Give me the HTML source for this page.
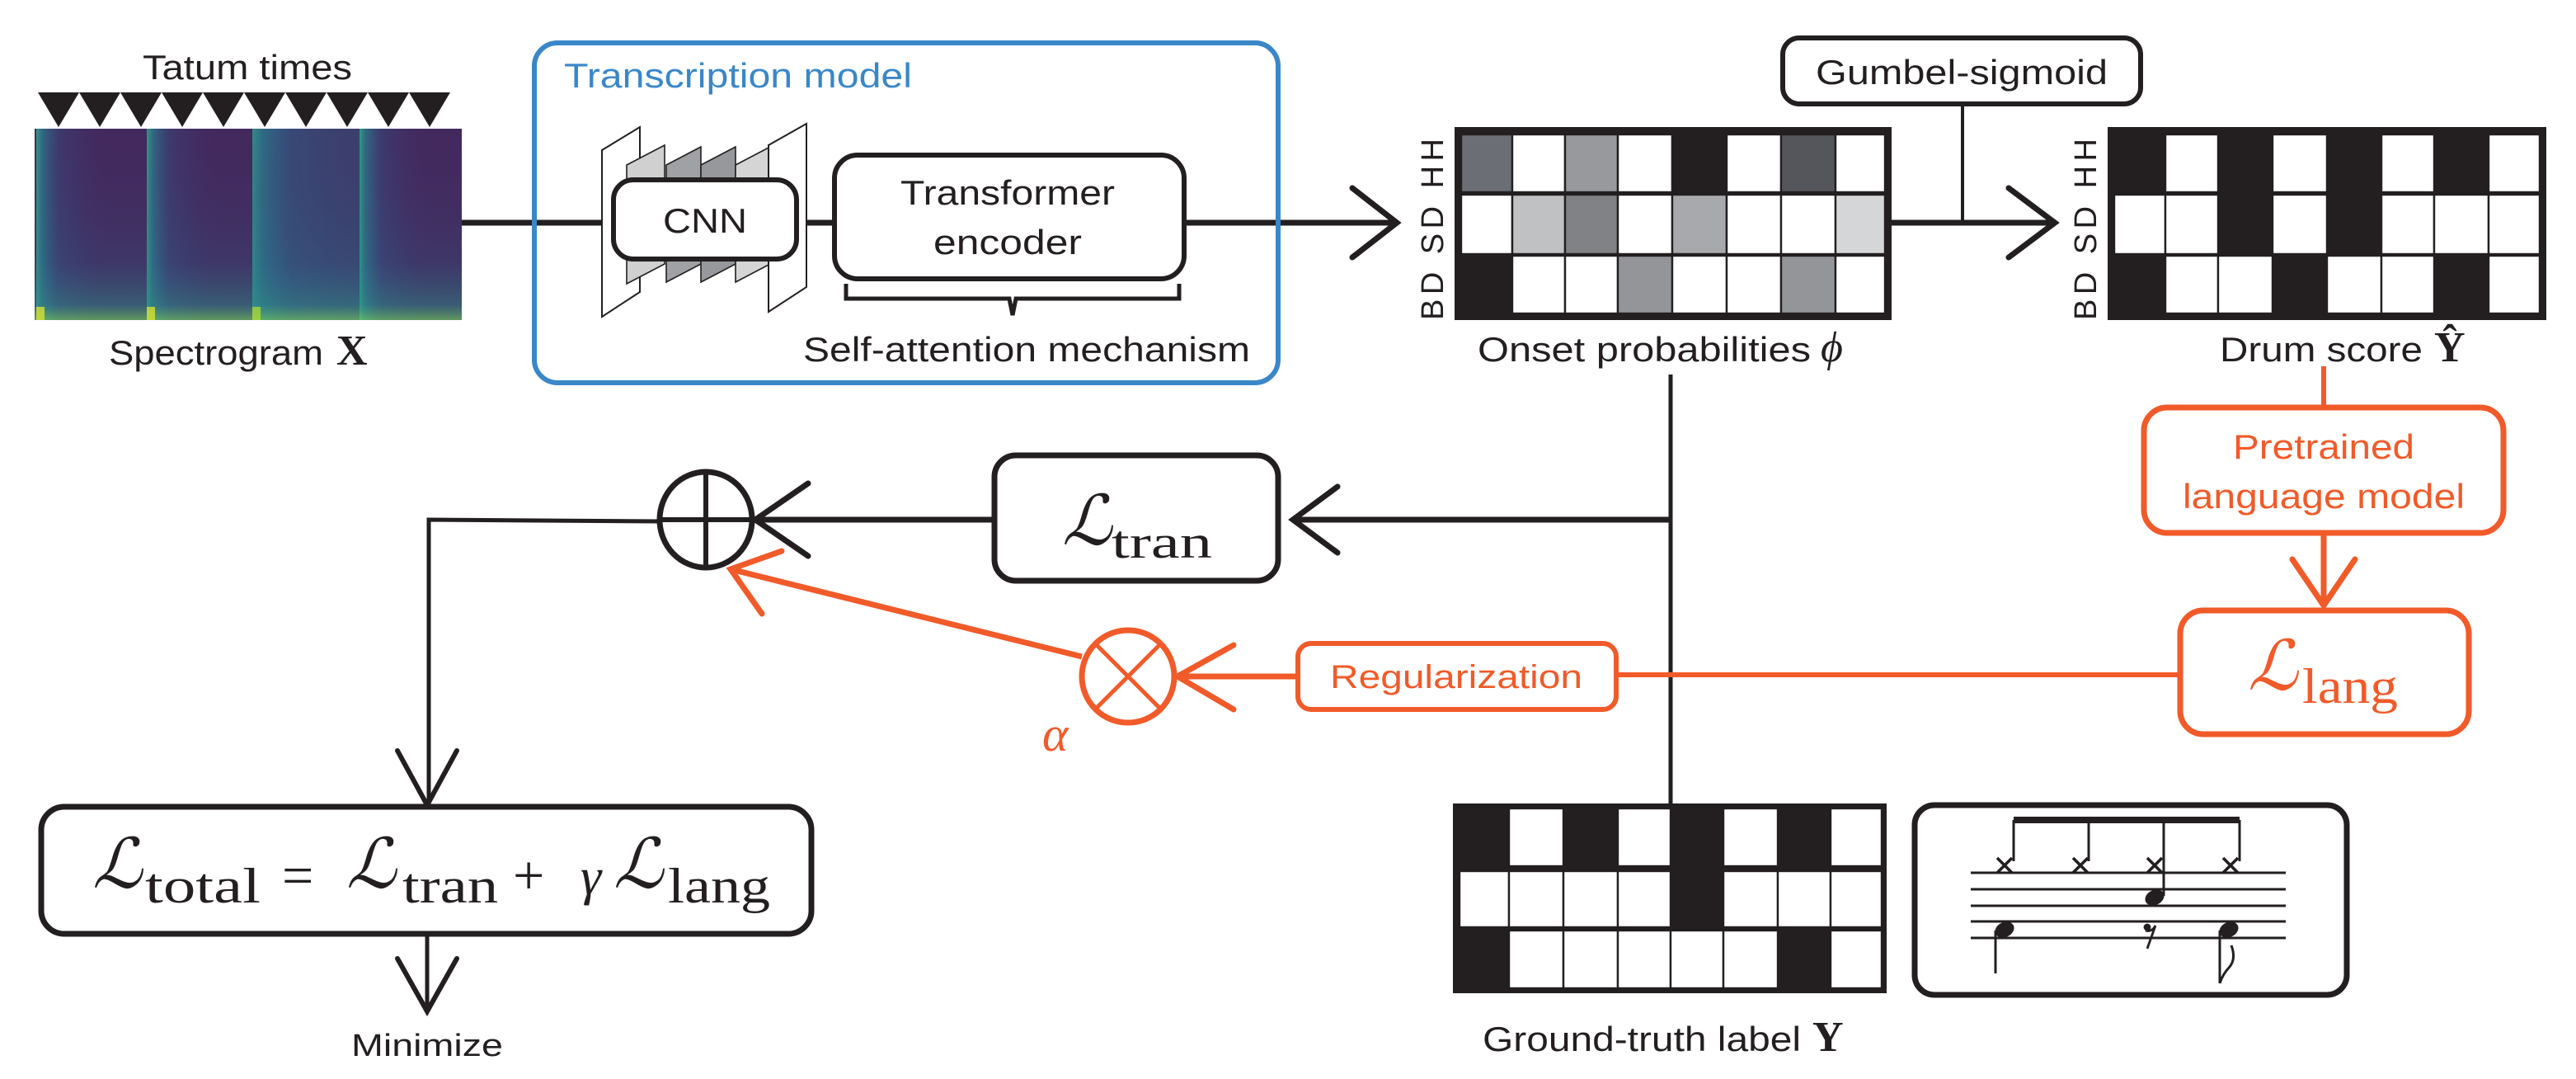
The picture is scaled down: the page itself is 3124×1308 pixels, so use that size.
<!DOCTYPE html>
<html><head><meta charset="utf-8"><style>
html,body{margin:0;padding:0;background:#fff;}
svg{display:block;}
.t{font-family:"Liberation Sans",sans-serif;fill:#231f20;}
.m{font-family:"Liberation Serif","DejaVu Serif",serif;}
</style></head><body>
<svg width="3124" height="1308" viewBox="0 0 1562 654" xmlns="http://www.w3.org/2000/svg">
<defs>
<linearGradient id="sg" x1="0" y1="0" x2="1" y2="0">
<stop offset="0" stop-color="#2fa58a" stop-opacity="0.9"/>
<stop offset="0.08" stop-color="#2a7f8e" stop-opacity="0.75"/>
<stop offset="0.3" stop-color="#33598c" stop-opacity="0.35"/>
<stop offset="1" stop-color="#43295e" stop-opacity="0"/>
</linearGradient>
<linearGradient id="sv" x1="0" y1="0" x2="0" y2="1">
<stop offset="0" stop-color="#43295e" stop-opacity="0"/>
<stop offset="0.7" stop-color="#2a6f8c" stop-opacity="0.2"/>
<stop offset="0.92" stop-color="#2f8f8a" stop-opacity="0.5"/>
<stop offset="1" stop-color="#6fc860" stop-opacity="0.7"/>
</linearGradient>
</defs>

<text class="t" x="150" y="48" font-size="21" text-anchor="middle" textLength="127" lengthAdjust="spacingAndGlyphs">Tatum times</text>
<g fill="#231f20">
<polygon points="23,56 48,56 35.5,77"/><polygon points="48,56 73,56 60.5,77"/><polygon points="73,56 98,56 85.5,77"/><polygon points="98,56 123,56 110.5,77"/><polygon points="123,56 148,56 135.5,77"/><polygon points="148,56 173,56 160.5,77"/><polygon points="173,56 198,56 185.5,77"/><polygon points="198,56 223,56 210.5,77"/><polygon points="223,56 248,56 235.5,77"/><polygon points="248,56 273,56 260.5,77"/>
</g>
<rect x="21" y="78" width="259" height="116" fill="#43295e"/>
<rect x="22" y="78" width="45" height="116" fill="url(#sg)"/>
<rect x="89" y="78" width="45" height="116" fill="url(#sg)"/>
<rect x="153" y="78" width="80" height="116" fill="url(#sg)"/>
<rect x="153" y="78" width="66" height="116" fill="#2d6e8c" opacity="0.3"/>
<rect x="218" y="78" width="45" height="116" fill="url(#sg)"/>
<rect x="21" y="78" width="259" height="116" fill="url(#sv)"/>
<rect x="22" y="186" width="5" height="8" fill="#d8e030" opacity="0.8"/>
<rect x="89" y="186" width="5" height="8" fill="#d8e030" opacity="0.8"/>
<rect x="153" y="186" width="5" height="8" fill="#b5de2b" opacity="0.7"/>
<text class="t" x="66" y="221" font-size="21" textLength="130" lengthAdjust="spacingAndGlyphs">Spectrogram</text>
<text class="m" x="204" y="221" font-size="26" font-weight="bold" fill="#231f20">X</text>

<line x1="280" y1="135" x2="372" y2="135" stroke="#231f20" stroke-width="3.5"/>
<line x1="482" y1="135" x2="506" y2="135" stroke="#231f20" stroke-width="3.5"/>
<line x1="718" y1="135" x2="846" y2="135" stroke="#231f20" stroke-width="3.5"/>
<polyline points="820,114 847,135 820,156" fill="none" stroke="#231f20" stroke-width="3.5" stroke-linecap="round"/>

<rect x="324" y="26" width="451" height="206" rx="14" fill="none" stroke="#3a87c8" stroke-width="3"/>
<text x="342" y="53" font-family="Liberation Sans,sans-serif" font-size="21" fill="#3a87c8" textLength="211" lengthAdjust="spacingAndGlyphs">Transcription model</text>

<polygon points="365,91 388,77 388,177 365,192" fill="#fff" stroke="#231f20" stroke-width="1"/>
<g stroke="#231f20" stroke-width="0.8">
<polygon points="380,100 403,88 403,160 380,172" fill="#d0d0d0"/>
<polygon points="404,100 425,89 425,160 404,171" fill="#a0a1a4"/>
<polygon points="425,100 446,89 446,160 425,171" fill="#97989b"/>
<polygon points="446,100 467,89 467,160 446,171" fill="#d5d5d6"/>
</g>
<polygon points="466,88 489,75 489,174 466,189" fill="#fff" stroke="#231f20" stroke-width="1"/>
<rect x="372" y="109" width="111" height="48" rx="12" fill="#fff" stroke="#231f20" stroke-width="3"/>
<text class="t" x="427.5" y="141" font-size="21" text-anchor="middle" textLength="51" lengthAdjust="spacingAndGlyphs">CNN</text>

<rect x="506" y="94" width="212" height="75" rx="14" fill="#fff" stroke="#231f20" stroke-width="3"/>
<text class="t" x="611" y="124" font-size="21" text-anchor="middle" textLength="130" lengthAdjust="spacingAndGlyphs">Transformer</text>
<text class="t" x="611" y="154" font-size="21" text-anchor="middle" textLength="90" lengthAdjust="spacingAndGlyphs">encoder</text>
<path d="M513,172 L513,181 L612,181 L614,191 L616,181 L715,181 L715,172" fill="none" stroke="#231f20" stroke-width="2.5"/>
<text class="t" x="487" y="219" font-size="21" textLength="271" lengthAdjust="spacingAndGlyphs">Self-attention mechanism</text>

<rect x="882" y="77" width="265" height="117" fill="#231f20"/>
<g stroke="#231f20" stroke-width="1.2">
<rect x="886" y="81.5" width="31" height="35" fill="#6b6e75"/>
<rect x="917" y="81.5" width="32" height="35" fill="#fff"/>
<rect x="949" y="81.5" width="32" height="35" fill="#97999d"/>
<rect x="981" y="81.5" width="33" height="35" fill="#fff"/>
<rect x="1014" y="81.5" width="33" height="35" fill="#231f20"/>
<rect x="1047" y="81.5" width="33" height="35" fill="#fff"/>
<rect x="1080" y="81.5" width="33" height="35" fill="#55565b"/>
<rect x="1113" y="81.5" width="30" height="35" fill="#fff"/>
<rect x="886" y="118" width="31" height="36" fill="#fff"/>
<rect x="917" y="118" width="32" height="36" fill="#c0c1c3"/>
<rect x="949" y="118" width="32" height="36" fill="#808285"/>
<rect x="981" y="118" width="33" height="36" fill="#fff"/>
<rect x="1014" y="118" width="33" height="36" fill="#a7a9ac"/>
<rect x="1047" y="118" width="33" height="36" fill="#fff"/>
<rect x="1080" y="118" width="33" height="36" fill="#fff"/>
<rect x="1113" y="118" width="30" height="36" fill="#d5d6d7"/>
<rect x="886" y="155" width="31" height="35" fill="#231f20"/>
<rect x="917" y="155" width="32" height="35" fill="#fff"/>
<rect x="949" y="155" width="32" height="35" fill="#fff"/>
<rect x="981" y="155" width="33" height="35" fill="#939598"/>
<rect x="1014" y="155" width="33" height="35" fill="#fff"/>
<rect x="1047" y="155" width="33" height="35" fill="#fff"/>
<rect x="1080" y="155" width="33" height="35" fill="#939598"/>
<rect x="1113" y="155" width="30" height="35" fill="#fff"/>
</g>
<text class="t" transform="translate(875,194) rotate(-90)" font-size="19" textLength="110" lengthAdjust="spacing">BD SD HH</text>
<text class="t" x="896" y="219" font-size="21" textLength="202" lengthAdjust="spacingAndGlyphs">Onset probabilities</text>
<text class="m" x="1104" y="219" font-size="26" font-style="italic" fill="#231f20">ϕ</text>

<rect x="1081" y="23" width="217" height="40" rx="10" fill="#fff" stroke="#231f20" stroke-width="3"/>
<text class="t" x="1189.5" y="51" font-size="21" text-anchor="middle" textLength="177" lengthAdjust="spacingAndGlyphs">Gumbel-sigmoid</text>
<line x1="1190" y1="63" x2="1190" y2="135" stroke="#231f20" stroke-width="2"/>
<line x1="1147" y1="135" x2="1245" y2="135" stroke="#231f20" stroke-width="3.5"/>
<polyline points="1218,114 1246,135 1218,156" fill="none" stroke="#231f20" stroke-width="3.5" stroke-linecap="round"/>

<rect x="1278" y="77" width="266" height="117" fill="#231f20"/>
<g fill="#fff" stroke="#231f20" stroke-width="1.2">
<rect x="1313" y="81.5" width="32" height="35"/><rect x="1378" y="81.5" width="33" height="35"/><rect x="1444" y="81.5" width="32" height="35"/><rect x="1509" y="81.5" width="31" height="35"/>
<rect x="1282" y="118" width="31" height="36"/><rect x="1313" y="118" width="32" height="36"/><rect x="1378" y="118" width="33" height="36"/><rect x="1444" y="118" width="32" height="36"/><rect x="1476" y="118" width="33" height="36"/><rect x="1509" y="118" width="31" height="36"/>
<rect x="1313" y="155" width="32" height="35"/><rect x="1345" y="155" width="33" height="35"/><rect x="1411" y="155" width="33" height="35"/><rect x="1444" y="155" width="32" height="35"/><rect x="1509" y="155" width="31" height="35"/>
</g>
<text class="t" transform="translate(1271,194) rotate(-90)" font-size="19" textLength="110" lengthAdjust="spacing">BD SD HH</text>
<text class="t" x="1346" y="219" font-size="21" textLength="123" lengthAdjust="spacingAndGlyphs">Drum score</text>
<text class="m" x="1476" y="219" font-size="26" font-weight="bold" fill="#231f20">Ŷ</text>

<line x1="1013" y1="227" x2="1013" y2="488" stroke="#231f20" stroke-width="2.5"/>

<line x1="1013" y1="315" x2="784" y2="315" stroke="#231f20" stroke-width="3.5"/>
<polyline points="811,295 784,315 811,335" fill="none" stroke="#231f20" stroke-width="3.5" stroke-linecap="round"/>
<rect x="603" y="276" width="172" height="76" rx="13" fill="#fff" stroke="#231f20" stroke-width="3.5"/>
<text x="644" y="330" class="m" font-size="42" font-style="italic" fill="#231f20">ℒ</text>
<text x="674" y="338" class="m" font-size="28" fill="#231f20" textLength="61" lengthAdjust="spacingAndGlyphs">tran</text>
<line x1="603" y1="315" x2="458" y2="315" stroke="#231f20" stroke-width="3.5"/>
<polyline points="490,293 458,315 490,337" fill="none" stroke="#231f20" stroke-width="3.5" stroke-linecap="round"/>

<ellipse cx="428" cy="315" rx="28" ry="29" fill="#fff" stroke="#231f20" stroke-width="3.5"/>
<line x1="400" y1="315" x2="456" y2="315" stroke="#231f20" stroke-width="3"/>
<line x1="428" y1="286" x2="428" y2="344" stroke="#231f20" stroke-width="3"/>
<polyline points="400,316 260,315 260,488" fill="none" stroke="#231f20" stroke-width="2.5"/>
<polyline points="241,455 259,488 277,455" fill="none" stroke="#231f20" stroke-width="3" stroke-linecap="round"/>

<rect x="25" y="489" width="467" height="77" rx="14" fill="#fff" stroke="#231f20" stroke-width="3.5"/>
<text x="56" y="538" class="m" font-size="42" font-style="italic" fill="#231f20">ℒ</text>
<text x="88" y="547" class="m" font-size="30" fill="#231f20" textLength="70" lengthAdjust="spacingAndGlyphs">total</text>
<text x="171" y="542" class="m" font-size="34" fill="#231f20">=</text>
<text x="210" y="538" class="m" font-size="42" font-style="italic" fill="#231f20">ℒ</text>
<text x="244" y="547" class="m" font-size="30" fill="#231f20" textLength="58" lengthAdjust="spacingAndGlyphs">tran</text>
<text x="311" y="542" class="m" font-size="34" fill="#231f20">+</text>
<text x="352" y="542" class="m" font-size="32" font-style="italic" fill="#231f20">γ</text>
<text x="372" y="538" class="m" font-size="42" font-style="italic" fill="#231f20">ℒ</text>
<text x="405" y="547" class="m" font-size="30" fill="#231f20" textLength="62" lengthAdjust="spacingAndGlyphs">lang</text>
<line x1="259" y1="566" x2="259" y2="612" stroke="#231f20" stroke-width="2.5"/>
<polyline points="241,581 259,613 277,581" fill="none" stroke="#231f20" stroke-width="3" stroke-linecap="round"/>
<text class="t" x="259" y="640" font-size="19" text-anchor="middle" textLength="92" lengthAdjust="spacingAndGlyphs">Minimize</text>

<line x1="1409" y1="222" x2="1409" y2="247" stroke="#f15a29" stroke-width="3"/>
<rect x="1300" y="247" width="218" height="76" rx="14" fill="#fff" stroke="#f15a29" stroke-width="3.5"/>
<text x="1409" y="278" font-family="Liberation Sans,sans-serif" font-size="21" fill="#f15a29" text-anchor="middle" textLength="110" lengthAdjust="spacingAndGlyphs">Pretrained</text>
<text x="1409" y="308" font-family="Liberation Sans,sans-serif" font-size="21" fill="#f15a29" text-anchor="middle" textLength="171" lengthAdjust="spacingAndGlyphs">language model</text>
<line x1="1409" y1="323" x2="1409" y2="367" stroke="#f15a29" stroke-width="3.5"/>
<polyline points="1390,339 1409,367 1428,339" fill="none" stroke="#f15a29" stroke-width="3.5" stroke-linecap="round"/>
<rect x="1322" y="370" width="175" height="75" rx="14" fill="#fff" stroke="#f15a29" stroke-width="3.5"/>
<text x="1363" y="418" class="m" font-size="42" font-style="italic" fill="#f15a29">ℒ</text>
<text x="1396" y="426" class="m" font-size="30" fill="#f15a29" textLength="58" lengthAdjust="spacingAndGlyphs">lang</text>
<line x1="1322" y1="409" x2="980" y2="409" stroke="#f15a29" stroke-width="3"/>
<rect x="787" y="390" width="193" height="40" rx="8" fill="#fff" stroke="#f15a29" stroke-width="3"/>
<text x="883" y="417" font-family="Liberation Sans,sans-serif" font-size="20" fill="#f15a29" text-anchor="middle" textLength="153" lengthAdjust="spacingAndGlyphs">Regularization</text>
<line x1="787" y1="410" x2="714" y2="410" stroke="#f15a29" stroke-width="3.5"/>
<polyline points="748,391 714,410 748,430" fill="none" stroke="#f15a29" stroke-width="3.5" stroke-linecap="round"/>
<ellipse cx="684" cy="410" rx="28" ry="28" fill="#fff" stroke="#f15a29" stroke-width="3.5"/>
<line x1="664" y1="390" x2="704" y2="430" stroke="#f15a29" stroke-width="2.5"/>
<line x1="704" y1="390" x2="664" y2="430" stroke="#f15a29" stroke-width="2.5"/>
<line x1="656" y1="398" x2="443" y2="345" stroke="#f15a29" stroke-width="3.5"/>
<polyline points="474,334 443,345 462,372" fill="none" stroke="#f15a29" stroke-width="3.5" stroke-linecap="round"/>
<text x="632" y="455" class="m" font-size="30" font-style="italic" fill="#f15a29">α</text>

<rect x="881" y="487" width="263" height="115" fill="#231f20"/>
<g fill="#fff" stroke="#231f20" stroke-width="1.2">
<rect x="915" y="490" width="33" height="35"/><rect x="981" y="490" width="32" height="35"/><rect x="1045" y="490" width="33" height="35"/><rect x="1110" y="490" width="31" height="35"/>
<rect x="885" y="528" width="30" height="34"/><rect x="915" y="528" width="33" height="34"/><rect x="948" y="528" width="33" height="34"/><rect x="981" y="528" width="32" height="34"/><rect x="1045" y="528" width="33" height="34"/><rect x="1078" y="528" width="32" height="34"/><rect x="1110" y="528" width="31" height="34"/>
<rect x="915" y="564" width="33" height="35"/><rect x="948" y="564" width="33" height="35"/><rect x="981" y="564" width="32" height="35"/><rect x="1013" y="564" width="32" height="35"/><rect x="1045" y="564" width="33" height="35"/><rect x="1110" y="564" width="31" height="35"/>
</g>
<text class="t" x="899" y="637" font-size="21" textLength="193" lengthAdjust="spacingAndGlyphs">Ground-truth label</text>
<text class="m" x="1099" y="637" font-size="26" font-weight="bold" fill="#231f20">Y</text>

<rect x="1161" y="488" width="262" height="115" rx="12" fill="#fff" stroke="#231f20" stroke-width="3.5"/>
<g stroke="#231f20" stroke-width="1.5">
<line x1="1195" y1="529" x2="1386" y2="529"/><line x1="1195" y1="539" x2="1386" y2="539"/><line x1="1195" y1="549" x2="1386" y2="549"/><line x1="1195" y1="558.5" x2="1386" y2="558.5"/><line x1="1195" y1="568.5" x2="1386" y2="568.5"/>
<line x1="1221" y1="497" x2="1221" y2="522"/><line x1="1266.5" y1="497" x2="1266.5" y2="522"/><line x1="1312" y1="497" x2="1312" y2="543"/><line x1="1358" y1="497" x2="1358" y2="522"/>
<line x1="1210" y1="564" x2="1210" y2="590"/><line x1="1346" y1="564" x2="1346" y2="596"/>
</g>
<rect x="1221" y="495" width="137" height="4" fill="#231f20"/>
<g stroke="#231f20" stroke-width="1.8">
<path d="M1211,520 l9,9 M1220,520 l-9,9"/><path d="M1257,520 l9,9 M1266,520 l-9,9"/><path d="M1302,520 l9,9 M1311,520 l-9,9"/><path d="M1348,520 l9,9 M1357,520 l-9,9"/>
</g>
<ellipse cx="1306.5" cy="544" rx="6" ry="4.5" transform="rotate(-25 1306.5 544)" fill="#231f20"/>
<ellipse cx="1215.5" cy="563.5" rx="6" ry="4.5" transform="rotate(-25 1215.5 563.5)" fill="#231f20"/>
<ellipse cx="1351.5" cy="563.5" rx="6" ry="4.5" transform="rotate(-25 1351.5 563.5)" fill="#231f20"/>
<path d="M1346,596 q2,-6 6,-10 q4,-5 1,-13" fill="none" stroke="#231f20" stroke-width="1.5"/>
<circle cx="1302" cy="562" r="2.2" fill="#231f20"/>
<path d="M1301,564 q4,1 6,-3 l-5,14" fill="none" stroke="#231f20" stroke-width="1.4"/>
</svg>
</body></html>
